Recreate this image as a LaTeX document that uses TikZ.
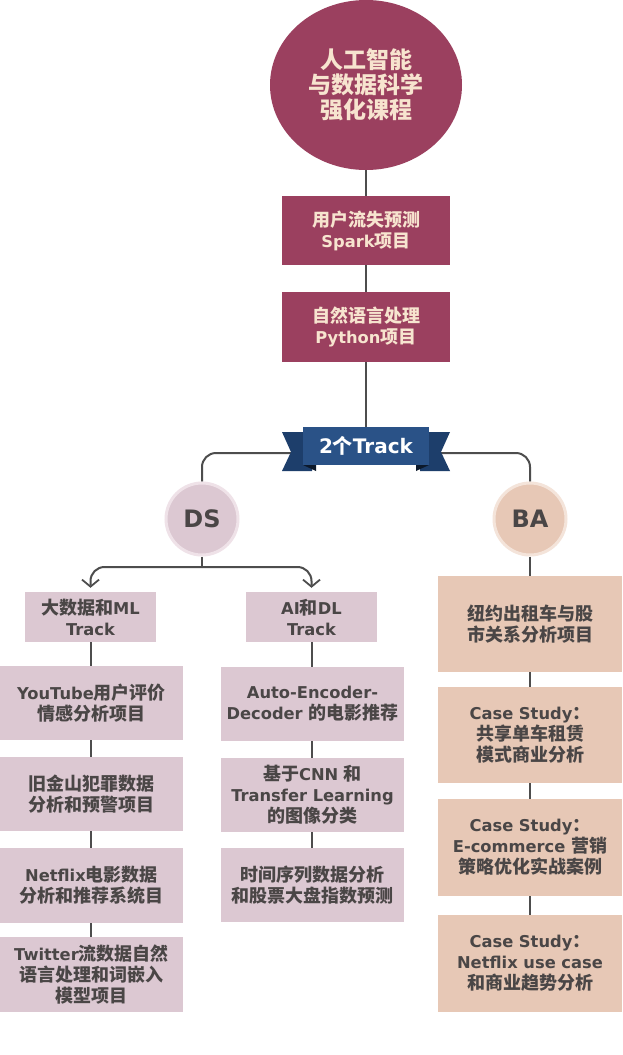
\documentclass[tikz,border=0pt]{standalone}
\usepackage{fontspec}
\setmainfont{DejaVu Sans}
\newfontfamily\cjk{Noto Sans CJK SC}
\usetikzlibrary{shapes.geometric,arrows.meta,backgrounds}
\newcommand\zh[1]{{\fontsize{18}{21}\selectfont\cjk #1}}
\definecolor{cMaroon}{HTML}{9B405F}
\definecolor{cCream}{HTML}{F7E4CF}
\definecolor{cLine}{HTML}{4D4D4D}
\definecolor{cBlue}{HTML}{2A5287}
\definecolor{cBlueDk}{HTML}{1D3E6B}
\definecolor{cDS}{HTML}{DCC8D2}
\definecolor{cDSring}{HTML}{EFE2E8}
\definecolor{cBA}{HTML}{E7C8B6}
\definecolor{cBAring}{HTML}{F4E4DA}
\definecolor{cText}{HTML}{4A4646}
\tikzset{
  base/.style={inner sep=0pt, align=center, font=\fontsize{16.3}{21}\selectfont\bfseries},
  topbox/.style={base, fill=cMaroon, text=cCream, minimum width=168pt, minimum height=69pt},
  dsbox/.style={base, fill=cDS, text=cText, minimum width=183pt, minimum height=74pt},
  babox/.style={base, fill=cBA, text=cText, minimum width=184pt, minimum height=96pt},
  trackbox/.style={base, fill=cDS, text=cText, minimum width=131pt, minimum height=50pt},
  conn/.style={draw=cLine, line width=2pt},
  arr/.style={conn, -{Straight Barb[length=7pt,width=17pt,line width=1.8pt]}},
}
\begin{document}
\begin{tikzpicture}[x=1pt,y=-1pt]
\useasboundingbox (0,0) rectangle (623,1055);
% banner tails
\fill[cBlueDk] (282,432) -- (312,432) -- (312,471) -- (282,471) -- (291,452) -- cycle;
\fill[cBlueDk] (450,432) -- (420,432) -- (420,471) -- (450,471) -- (441,452) -- cycle;
\fill[black!60!cBlueDk] (303,465) -- (316,465) -- (316,471) -- cycle;
\fill[black!60!cBlueDk] (429,465) -- (416,465) -- (416,471) -- cycle;

\node[ellipse, fill=cMaroon, minimum width=192pt, minimum height=170pt, inner sep=0pt,
      text=cCream, align=center, font=\fontsize{23}{25}\selectfont\bfseries\cjk] (top) at (366,85)
  {人工智能\\与数据科学\\强化课程};
\node[topbox] (b1) at (366,230.5) {\zh{用户流失预测}\\Spark\zh{项目}};
\node[topbox, minimum height=70pt] (b2) at (366,327) {\zh{自然语言处理}\\Python\zh{项目}};
\node[base, fill=cBlue, text=white, minimum width=126pt, minimum height=38pt,
      font=\fontsize{20}{22}\selectfont\bfseries] (banner) at (366,446)
  {2{\cjk 个}Track};

\node[circle, fill=cDS, draw=cDSring, line width=3pt, minimum size=72pt, inner sep=0pt,
      text=cText, font=\fontsize{24}{26}\selectfont\bfseries] (ds) at (202,519) {DS};
\node[circle, fill=cBA, draw=cBAring, line width=3pt, minimum size=72pt, inner sep=0pt,
      text=cText, font=\fontsize{24}{26}\selectfont\bfseries] (ba) at (530,519) {BA};

\node[trackbox] (ml) at (90.5,617) {\zh{大数据和}ML\\Track};
\node[trackbox] (ai) at (311.5,617) {AI\zh{和}DL\\Track};

\node[dsbox] (l1) at (91.5,703) {YouTube\zh{用户评价}\\\zh{情感分析项目}};
\node[dsbox] (l2) at (91.5,794) {\zh{旧金山犯罪数据}\\\zh{分析和预警项目}};
\node[dsbox, minimum height=75pt] (l3) at (91.5,885.5) {Netflix\zh{电影数据}\\\zh{分析和推荐系统目}};
\node[dsbox, minimum height=75pt] (l4) at (91.5,974.5) {Twitter\zh{流数据自然}\\\zh{语言处理和词嵌入}\\\zh{模型项目}};

\node[dsbox] (r1) at (312.5,704) {Auto-Encoder-\\Decoder \zh{的电影推荐}};
\node[dsbox] (r2) at (312.5,795) {\zh{基于}CNN \zh{和}\\Transfer Learning\\\zh{的图像分类}};
\node[dsbox] (r3) at (312.5,885) {\zh{时间序列数据分析}\\\zh{和股票大盘指数预测}};

\node[babox] (a1) at (530,624) {\zh{纽约出租车与股}\\\zh{市关系分析项目}};
\node[babox] (a2) at (530,735) {Case Study\zh{：}\\\zh{共享单车租赁}\\\zh{模式商业分析}};
\node[babox, minimum height=97pt] (a3) at (530,847.5) {Case Study\zh{：}\\E-commerce \zh{营销}\\\zh{策略优化实战案例}};
\node[babox, minimum height=97pt] (a4) at (530,963.5) {Case Study\zh{：}\\Netflix use case\\\zh{和商业趋势分析}};

\coordinate (dsj) at (202,567);

\begin{pgfonlayer}{background}
\fill[white] (0,0) rectangle (623,1055);
\draw[conn] (top.south) -- (b1.north);
\draw[conn] (b1.south) -- (b2.north);
\draw[conn] (b2.south) -- (banner.north);
\draw[conn, rounded corners=14pt] ([yshift=-7pt]banner.west) -| (ds.north);
\draw[conn, rounded corners=14pt] ([yshift=-7pt]banner.east) -| (ba.north);
\draw[conn] (ds.south) -- (dsj);
\draw[arr, rounded corners=14pt] (dsj) -| ([yshift=4pt]ml.north);
\draw[arr, rounded corners=14pt] (dsj) -| ([yshift=4pt]ai.north);
\draw[conn] (ml.south) -- (ml.south |- l1.north);
\draw[conn] (ml.south |- l1.south) -- (ml.south |- l2.north);
\draw[conn] (ml.south |- l2.south) -- (ml.south |- l3.north);
\draw[conn] (ml.south |- l3.south) -- (ml.south |- l4.north);
\draw[conn] (ai.south) -- (ai.south |- r1.north);
\draw[conn] (ai.south |- r1.south) -- (ai.south |- r2.north);
\draw[conn] (ai.south |- r2.south) -- (ai.south |- r3.north);
\draw[conn] (ba.south) -- (a1.north);
\draw[conn] (a1.south) -- (a2.north);
\draw[conn] (a2.south) -- (a3.north);
\draw[conn] (a3.south) -- (a4.north);
\end{pgfonlayer}
\end{tikzpicture}
\end{document}
